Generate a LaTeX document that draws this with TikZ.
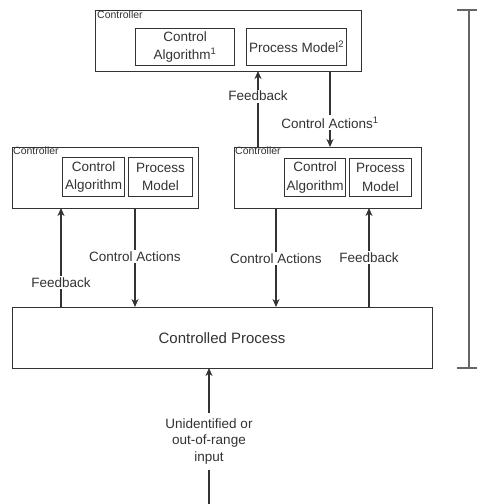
\documentclass[tikz,border=0pt]{standalone}
\usepackage{fontspec}
\setmainfont{Liberation Sans}
\usetikzlibrary{arrows.meta}
\definecolor{ink}{HTML}{333333}
\definecolor{txt}{HTML}{333333}
\definecolor{rule}{HTML}{666666}
\begin{document}
\begin{tikzpicture}[x=1pt,y=-1pt,
  box/.style={draw=ink,line width=1.2pt,fill=white,anchor=north west,inner sep=0pt},
  inner/.style={draw=ink,line width=1.2pt,anchor=north west,inner sep=0pt,
    align=center,text=txt,font=\fontsize{13.5}{18.5}\selectfont},
  tag/.style={anchor=north west,inner sep=0pt,text=txt,font=\fontsize{10.5}{12}\selectfont},
  lbl/.style={fill=white,inner sep=1.5pt,text=txt,align=center,font=\fontsize{13.5}{16.5}\selectfont},
  conn/.style={draw=ink,line width=1.2pt,-{Stealth[length=8pt,width=7pt,inset=2.5pt]}}]
\useasboundingbox (0,0) rectangle (477,504);

% top controller
\node[box,minimum width=266pt,minimum height=61pt] (top) at (95,10) {};
\node[tag] (toptag) at (97,11) {Controller};
\node[inner,minimum width=99pt,minimum height=37pt] (topca) at (135,28) {Control\\Algorithm\textsuperscript{1}};
\node[inner,minimum width=100pt,minimum height=37pt] (toppm) at (246,28) {Process Model\textsuperscript{2}};

% left controller
\node[box,minimum width=186pt,minimum height=61pt] (left) at (12,147) {};
\node[tag] (lefttag) at (13,147) {Controller};
\node[inner,minimum width=62pt,minimum height=39pt] (leftca) at (62,157) {Control\\Algorithm};
\node[inner,minimum width=64pt,minimum height=39pt] (leftpm) at (128,157) {Process\\Model};

% right controller
\node[box,minimum width=187pt,minimum height=61pt] (right) at (234,147) {};
\node[tag] (righttag) at (235,147) {Controller};
\node[inner,minimum width=61pt,minimum height=38pt] (rightca) at (284,158) {Control\\Algorithm};
\node[inner,minimum width=62pt,minimum height=38pt] (rightpm) at (349,158) {Process\\Model};

% controlled process
\node[box,minimum width=420pt,minimum height=61pt] (proc) at (12,307) {};
\node[text=txt,font=\fontsize{15}{17}\selectfont] (proctxt) at (222,338) {Controlled Process};

% connection points
\coordinate (fbA) at (258,147);  \coordinate (fbB) at (258,71);
\coordinate (caA) at (330,71);   \coordinate (caB) at (330,147);
\coordinate (lfA) at (61,307);   \coordinate (lfB) at (61,208);
\coordinate (lcA) at (135,208);  \coordinate (lcB) at (135,307);
\coordinate (rcA) at (276,208);  \coordinate (rcB) at (276,307);
\coordinate (rfA) at (369,307);  \coordinate (rfB) at (369,208);
\coordinate (inA) at (209,504);  \coordinate (inB) at (209,368);

% connectors with their labels
\draw[conn] (fbA) -- (fbB) node[lbl,pos=0.67] {Feedback};
\draw[conn] (caA) -- (caB) node[lbl,pos=0.68] {Control Actions\textsuperscript{1}};
\draw[conn] (lfA) -- (lfB) node[lbl,pos=0.25] {Feedback};
\draw[conn] (lcA) -- (lcB) node[lbl,pos=0.49] {Control Actions};
\draw[conn] (rcA) -- (rcB) node[lbl,pos=0.51] {Control Actions};
\draw[conn] (rfA) -- (rfB) node[lbl,pos=0.5] {Feedback};
\draw[conn] (inA) -- (inB) node[lbl,pos=0.46,inner sep=6pt] {Unidentified or\\out-of-range\\input};

% span bracket on the right
\coordinate (brT) at (469,10);
\coordinate (brB) at (469,368);
\draw[rule,line width=1.2pt] (brT) -- (brB);
\draw[rule,line width=1.2pt] ([xshift=-12pt]brT) -- ([xshift=10pt]brT);
\draw[rule,line width=1.2pt] ([xshift=-12pt]brB) -- ([xshift=10pt]brB);
\end{tikzpicture}
\end{document}
